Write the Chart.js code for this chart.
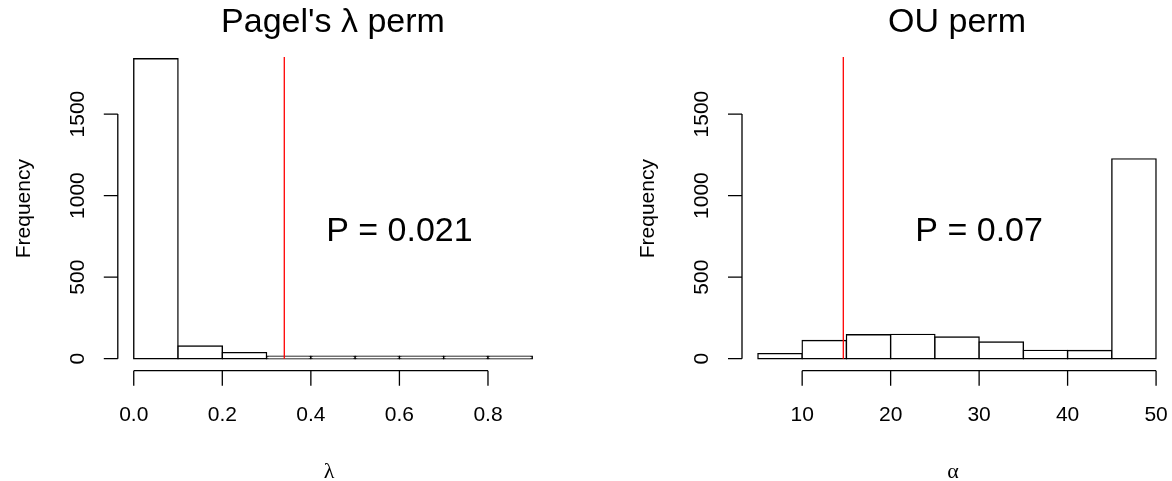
<!DOCTYPE html>
<html>
<head>
<meta charset="utf-8">
<script src="https://cdn.jsdelivr.net/npm/chart.js@4/dist/chart.umd.min.js"></script>
<style>
  html, body { margin: 0; padding: 0; background: #fff; }
  #wrap { position: relative; width: 1172px; height: 481px; }
  canvas { position: absolute; top: 0; }
</style>
</head>
<body>
<div id="wrap">
  <canvas id="lambdaHist" width="586" height="481" style="left:0"></canvas>
  <canvas id="alphaHist" width="586" height="481" style="left:586px"></canvas>
</div>
<script>
// bin edges and counts of the two permutation histograms
const lambdaEdges = [0, 0.1, 0.2, 0.3, 0.4, 0.5, 0.6, 0.7, 0.8, 0.9];
const lambdaCounts = [1839, 78, 37, 15, 12, 8, 5, 3, 3];
const alphaEdges = [5, 10, 15, 20, 25, 30, 35, 40, 45, 50];
const alphaCounts = [31, 112, 147, 149, 133, 102, 51, 50, 1225];

// observed values (red lines)
const lambdaObs = 0.34;
const alphaObs = 14.65;
const obsLineTop = 1850;

// axis ticks
const lambdaTicks = [0, 0.2, 0.4, 0.6, 0.8];
const lambdaTickLabels = ['0.0', '0.2', '0.4', '0.6', '0.8'];
const alphaTicks = [10, 20, 30, 40, 50];
const alphaTickLabels = ['10', '20', '30', '40', '50'];
const freqTicks = [0, 500, 1000, 1500];
const freqTickLabels = ['0', '500', '1000', '1500'];

const FONT = '"Liberation Sans", Arial, Helvetica, sans-serif';

// R style axes: line only between first and last tick, ticks pointing outwards
const rAxes = {
    id: 'rAxes',
    afterDraw(chart, args, o) {
        const ctx = chart.ctx;
        const xs = chart.scales.x, ys = chart.scales.y;
        const a = chart.chartArea;
        ctx.save();
        ctx.strokeStyle = '#000';
        ctx.lineWidth = 1.3;
        ctx.fillStyle = '#000';

        // x axis
        const yb = a.bottom;
        const x0 = xs.getPixelForValue(o.xTicks[0]);
        const x1 = xs.getPixelForValue(o.xTicks[o.xTicks.length - 1]);
        ctx.beginPath();
        ctx.moveTo(x0, yb); ctx.lineTo(x1, yb);
        o.xTicks.forEach(v => {
            const px = xs.getPixelForValue(v);
            ctx.moveTo(px, yb); ctx.lineTo(px, yb + 15);
        });
        ctx.stroke();
        ctx.font = '21px ' + FONT;
        ctx.textAlign = 'center';
        ctx.textBaseline = 'alphabetic';
        o.xTicks.forEach((v, i) => ctx.fillText(o.xLabels[i], xs.getPixelForValue(v), yb + 50));

        // y axis
        const xl = a.left;
        const y0 = ys.getPixelForValue(o.yTicks[0]);
        const y1 = ys.getPixelForValue(o.yTicks[o.yTicks.length - 1]);
        ctx.beginPath();
        ctx.moveTo(xl, y0); ctx.lineTo(xl, y1);
        o.yTicks.forEach(v => {
            const py = ys.getPixelForValue(v);
            ctx.moveTo(xl, py); ctx.lineTo(xl - 14, py);
        });
        ctx.stroke();
        o.yTicks.forEach((v, i) => {
            ctx.save();
            ctx.translate(xl - 34, ys.getPixelForValue(v));
            ctx.rotate(-Math.PI / 2);
            ctx.fillText(o.yLabels[i], 0, 0);
            ctx.restore();
        });

        // axis titles
        const midY = (a.top + a.bottom) / 2;
        const midX = (a.left + a.right) / 2;
        ctx.save();
        ctx.translate(xl - 88, midY);
        ctx.rotate(-Math.PI / 2);
        ctx.fillText('Frequency', 0, 0);
        ctx.restore();

        ctx.font = '22px "Liberation Serif", "DejaVu Serif", serif';
        ctx.fillText(o.xTitle, midX - 4, yb + 107);

        // main title
        ctx.font = '34px ' + FONT;
        ctx.fillText(o.title, midX, 32);

        // p value annotation
        ctx.font = '34px ' + FONT;
        ctx.fillText(o.pText, xs.getPixelForValue(o.pAt[0]), ys.getPixelForValue(o.pAt[1]));
        ctx.restore();
    }
};

function makeHist(id, edges, counts, obs, xMin, xMax, pad, axisOpts) {
    const bars = counts.map((c, i) => ({ x: (edges[i] + edges[i + 1]) / 2, y: c }));
    return new Chart(document.getElementById(id), {
        type: 'bar',
        data: {
            datasets: [{
                type: 'bar',
                data: bars,
                backgroundColor: '#ffffff',
                borderColor: '#000000',
                borderWidth: 1.4,
                inflateAmount: 0.7,
                borderSkipped: false,
                minBarLength: 2.5,
                barPercentage: 1,
                categoryPercentage: 1,
                grouped: false,
                order: 1
            }, {
                type: 'line',
                data: [{ x: obs, y: 0 }, { x: obs, y: obsLineTop }],
                borderColor: '#ff0000',
                borderWidth: 1.3,
                pointRadius: 0,
                order: 0
            }]
        },
        options: {
            responsive: false,
            animation: false,
            devicePixelRatio: 1,
            layout: { padding: pad },
            plugins: {
                legend: { display: false },
                tooltip: { enabled: false },
                rAxes: axisOpts
            },
            scales: {
                x: { type: 'linear', offset: false, min: xMin, max: xMax, display: false },
                y: { type: 'linear', min: -73.6, max: 1913.6, display: false }
            }
        },
        plugins: [rAxes]
    });
}

makeHist('lambdaHist', lambdaEdges, lambdaCounts, lambdaObs, -0.036, 0.936,
    { left: 117.8, right: 37.8, top: 46.6, bottom: 110.3 },
    {
        xTicks: lambdaTicks, xLabels: lambdaTickLabels,
        yTicks: freqTicks, yLabels: freqTickLabels,
        title: "Pagel's \u03bb perm", xTitle: '\u03bb',
        pText: 'P = 0.021', pAt: [0.6, 720]
    });

makeHist('alphaHist', alphaEdges, alphaCounts, alphaObs, 3.2, 51.8,
    { left: 156, right: 0, top: 46.6, bottom: 110.3 },
    {
        xTicks: alphaTicks, xLabels: alphaTickLabels,
        yTicks: freqTicks, yLabels: freqTickLabels,
        title: 'OU perm', xTitle: '\u03b1',
        pText: 'P = 0.07', pAt: [30, 720]
    });
</script>
</body>
</html>
